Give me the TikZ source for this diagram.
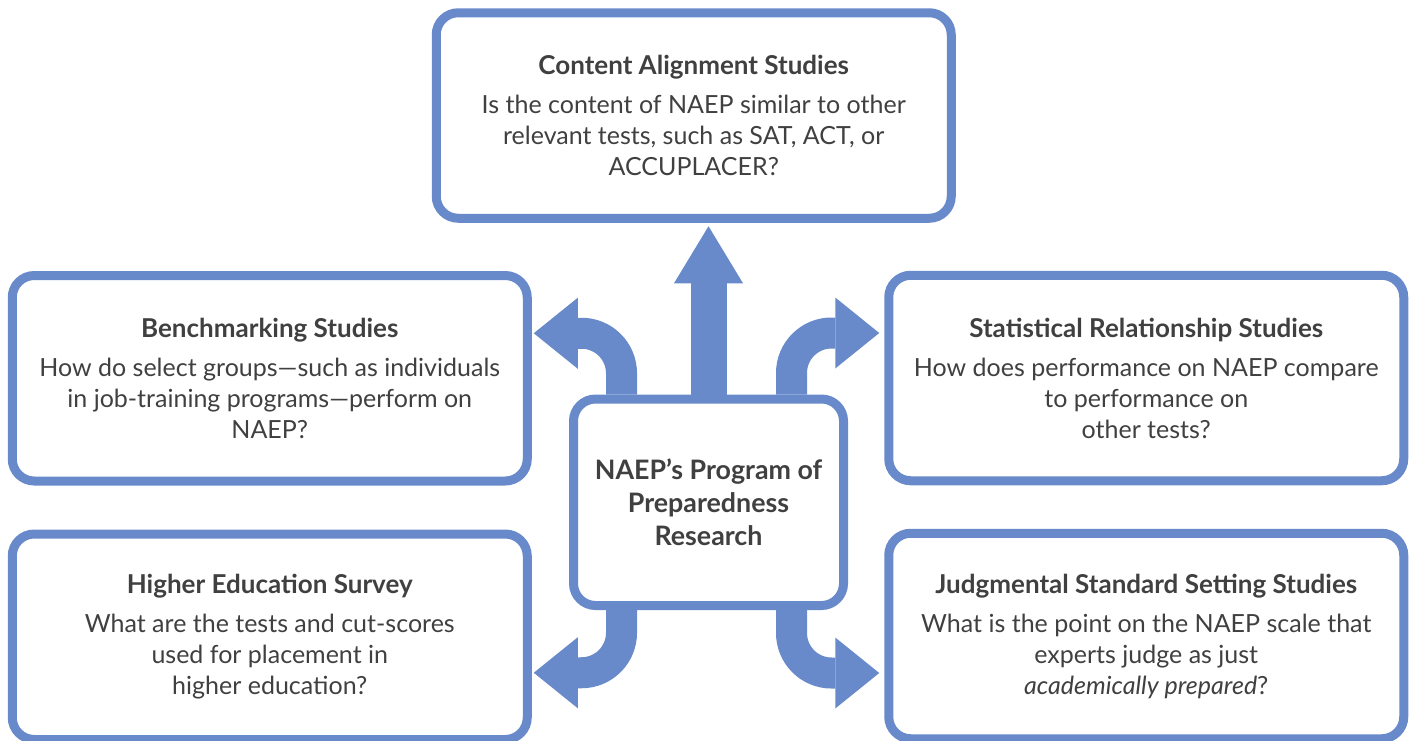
\documentclass[tikz,border=0pt]{standalone}
\usepackage{fontspec}
\setmainfont{Lato}
\usetikzlibrary{arrows.meta,calc}
\definecolor{naepblue}{RGB}{104,138,202}
\definecolor{naeptext}{RGB}{64,64,64}
\newcommand{\studytitle}[1]{{\fontsize{13}{15.5}\selectfont\bfseries #1}}
\tikzset{
every node/.style={text=naeptext, font=\fontsize{12.5}{15.5}\selectfont},
study/.style={draw=naepblue, line width=4.5pt, rounded corners=11pt, fill=white, align=center, minimum width=257.5pt, minimum height=102.75pt},
hubbox/.style={study, minimum width=135pt, minimum height=103.25pt, font=\fontsize{13.4}{16.5}\selectfont\bfseries},
fat/.style={draw=naepblue, line width=15.5pt, rounded corners=20pt, -{Triangle[length=22pt,width=35.5pt,line width=0pt]}},
fatup/.style={draw=naepblue, line width=18pt, -{Triangle[length=28.5pt,width=34.5pt,line width=0pt]}, shorten >=1.75pt}
}

\begin{document}
\begin{tikzpicture}[x=0.5pt,y=-0.5pt]
\useasboundingbox (0,0) rectangle (1413,740);
\node [study] (content) at (693.75,115.5) {\studytitle{Content Alignment Studies}\\[4pt] Is the content of NAEP similar to other\\ relevant tests, such as SAT, ACT, or\\ ACCUPLACER?};
\node [study] (bench) at (269.75,378.25) {\studytitle{Benchmarking Studies}\\[4pt] How do select groups---such as individuals\\ in job-training programs---perform on\\ NAEP?};
\node [study] (stats) at (1146.25,378) {\studytitle{Statistical Relationship Studies}\\[4pt] How does performance on NAEP compare\\ to performance on\\ other tests?};
\node [study] (survey) at (269.75,636.75) {\studytitle{Higher Education Survey}\\[4pt] What are the tests and cut-scores\\ used for placement in\\ higher education?};
\node [study] (judge) at (1146.25,636) {\studytitle{Judgmental Standard Setting Studies}\\[4pt] What is the point on the NAEP scale that\\ experts judge as just\\ \textit{academically prepared}?};
\node [hubbox] (hub) at (708.5,502.25) {NAEP's Program of\\ Preparedness\\ Research};

\draw [fatup] (hub.north) -- (hub.north |- content.south);
\draw [fat] ([xshift=-43.5pt]hub.north) |- ($(bench.east)+(2,-45)$);
\draw [fat] ([xshift=41.5pt]hub.north) |- ($(stats.west)+(-5,-45)$);
\draw [fat] ([xshift=-43.5pt]hub.south) |- ($(survey.east)+(2,36)$);
\draw [fat] ([xshift=41.5pt]hub.south) |- ($(judge.west)+(-5,37)$);
\end{tikzpicture}
\end{document}
